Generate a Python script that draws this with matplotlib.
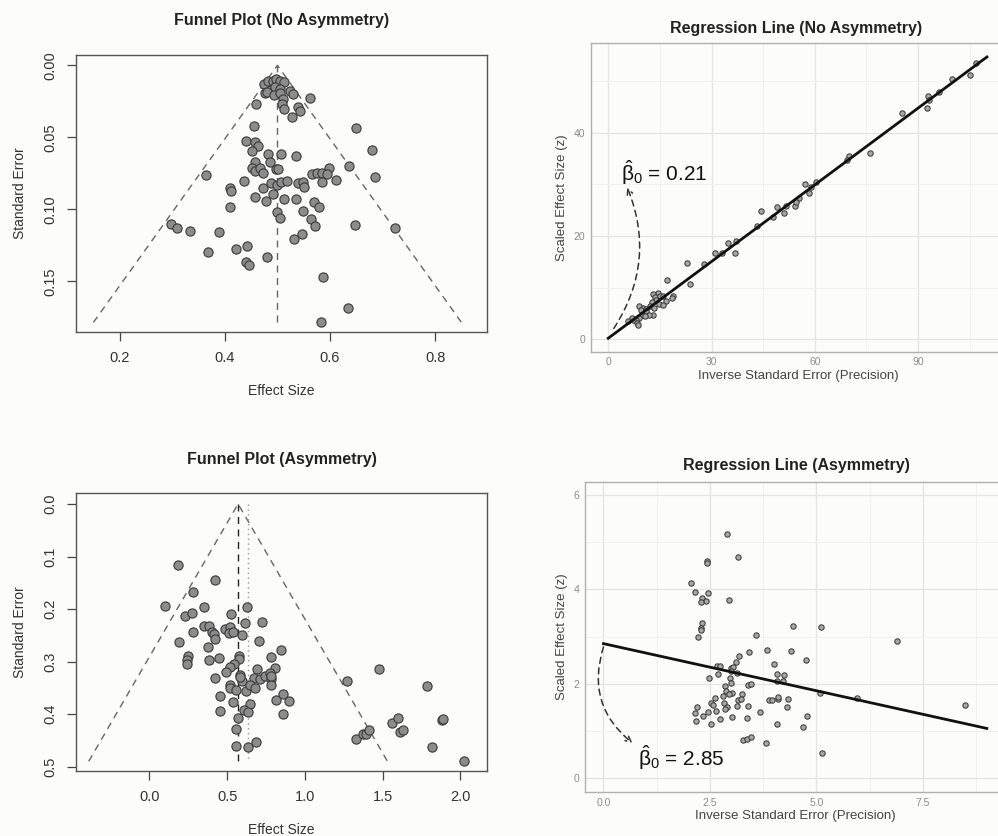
import matplotlib
matplotlib.use("Agg")
import matplotlib.pyplot as plt
from matplotlib.ticker import MultipleLocator

plt.rcParams['font.family'] = ['Liberation Sans', 'DejaVu Sans']
# upright greek in the beta-hat labels
plt.rcParams['mathtext.fontset'] = 'custom'
plt.rcParams['mathtext.rm'] = 'Liberation Sans'
plt.rcParams['mathtext.it'] = 'Liberation Sans'
plt.rcParams['mathtext.bf'] = 'Liberation Sans:bold'

# ---- data ----
# Funnel plot, no asymmetry
fp1_effect = [0.474, 0.483, 0.492, 0.498, 0.504, 0.512, 0.488, 0.496, 0.504, 0.477,
              0.480, 0.493, 0.505, 0.524, 0.529, 0.511, 0.509, 0.513, 0.539, 0.543,
              0.528, 0.561, 0.460, 0.456, 0.649, 0.440, 0.457, 0.463, 0.452, 0.483,
              0.507, 0.535, 0.680, 0.485, 0.458, 0.452, 0.458, 0.466, 0.472, 0.498,
              0.501, 0.637, 0.598, 0.566, 0.576, 0.585, 0.594, 0.685, 0.364, 0.437,
              0.473, 0.488, 0.499, 0.507, 0.519, 0.539, 0.549, 0.550, 0.585, 0.611,
              0.409, 0.412, 0.457, 0.478, 0.492, 0.512, 0.535, 0.569, 0.580, 0.409,
              0.499, 0.505, 0.548, 0.564, 0.572, 0.647, 0.723, 0.298, 0.309, 0.334,
              0.389, 0.532, 0.547, 0.421, 0.443, 0.368, 0.480, 0.441, 0.446, 0.586,
              0.634, 0.583]
fp1_se = [0.0130, 0.0106, 0.0106, 0.0097, 0.0109, 0.0113, 0.0171, 0.0153, 0.0167, 0.0190,
          0.0183, 0.0206, 0.0190, 0.0176, 0.0201, 0.0234, 0.0269, 0.0303, 0.0287, 0.0317,
          0.0356, 0.0225, 0.0271, 0.0421, 0.0438, 0.0523, 0.0535, 0.0558, 0.0595, 0.0618,
          0.0613, 0.0632, 0.0588, 0.0669, 0.0674, 0.0715, 0.0734, 0.0715, 0.0750, 0.0722,
          0.0720, 0.0699, 0.0711, 0.0757, 0.0750, 0.0745, 0.0755, 0.0773, 0.0759, 0.0801,
          0.0850, 0.0819, 0.0829, 0.0813, 0.0803, 0.0819, 0.0808, 0.0847, 0.0808, 0.0796,
          0.0854, 0.0870, 0.0912, 0.0940, 0.0894, 0.0931, 0.0931, 0.0947, 0.0981, 0.0986,
          0.1019, 0.1058, 0.1009, 0.1067, 0.1116, 0.1109, 0.1130, 0.1102, 0.1130, 0.1150,
          0.1160, 0.1204, 0.1171, 0.1275, 0.1255, 0.1299, 0.1329, 0.1363, 0.1387, 0.1470,
          0.1685, 0.1780]
fp1_center = 0.5
fp1_se_max = 0.1786

# Regression line, no asymmetry
rl1_precision = [106.7, 105.2, 99.9, 96.0, 92.8, 93.1, 92.6, 85.4, 75.9, 69.9,
                 69.4, 60.2, 57.1, 58.8, 58.3, 55.4, 54.1, 54.4, 51.5, 51.0,
                 48.9, 47.8, 44.3, 43.3, 37.2, 34.8, 36.7, 32.9, 31.0, 27.8,
                 22.9, 23.7, 17.1, 14.5, 13.1, 13.6, 15.0, 16.0, 18.7, 18.4,
                 16.7, 14.0, 12.6, 14.8, 12.1, 16.0, 9.0, 10.2, 9.4, 11.1,
                 13.3, 10.9, 12.9, 9.7, 9.0, 11.9, 10.6, 8.0, 7.1, 8.2,
                 8.7, 6.8, 5.8]
rl1_z = [53.4, 51.1, 50.4, 47.9, 47.1, 46.3, 44.7, 43.9, 36.0, 35.5,
         34.7, 30.5, 30.0, 29.5, 28.4, 27.3, 25.8, 26.5, 25.8, 24.4,
         25.7, 23.6, 24.8, 22.0, 19.1, 18.7, 16.8, 16.8, 16.8, 14.5,
         14.8, 10.8, 11.5, 9.0, 8.7, 8.1, 8.3, 8.3, 8.3, 7.9,
         7.4, 7.6, 7.3, 6.8, 6.5, 6.6, 6.5, 6.1, 5.7, 5.9,
         6.0, 5.4, 4.8, 4.8, 4.2, 4.7, 4.5, 3.7, 3.7, 3.1,
         2.8, 4.1, 3.6]
rl1_intercept = 0.21
rl1_slope = 0.495
rl1_line_end = 110

# Funnel plot, asymmetry
fp2_effect = [0.182, 0.423, 0.283, 0.101, 0.230, 0.273, 0.352, 0.526, 0.627, 0.279,
              0.348, 0.386, 0.401, 0.416, 0.423, 0.487, 0.515, 0.509, 0.536, 0.594,
              0.612, 0.723, 0.702, 0.193, 0.376, 0.251, 0.240, 0.240, 0.380, 0.448,
              0.573, 0.579, 0.781, 0.845, 0.809, 0.691, 0.545, 0.519, 0.494, 0.423,
              0.584, 0.670, 0.708, 0.745, 0.777, 0.783, 0.594, 0.783, 0.515, 0.519,
              0.558, 0.622, 0.644, 0.680, 0.451, 0.536, 0.648, 0.605, 0.631, 0.815,
              0.858, 0.895, 0.451, 0.856, 0.567, 0.558, 0.558, 0.631, 0.685, 1.270,
              1.474, 1.785, 1.328, 1.371, 1.395, 1.414, 1.560, 1.597, 1.614, 1.631,
              1.884, 1.888, 1.818, 2.021, 0.584, 0.783]
fp2_se = [0.117, 0.145, 0.168, 0.195, 0.213, 0.208, 0.197, 0.210, 0.197, 0.244,
          0.232, 0.232, 0.243, 0.248, 0.257, 0.238, 0.235, 0.246, 0.244, 0.249,
          0.227, 0.224, 0.260, 0.262, 0.272, 0.289, 0.297, 0.305, 0.297, 0.294,
          0.289, 0.296, 0.292, 0.278, 0.312, 0.314, 0.305, 0.310, 0.319, 0.331,
          0.326, 0.332, 0.333, 0.327, 0.322, 0.333, 0.338, 0.345, 0.345, 0.351,
          0.355, 0.357, 0.345, 0.351, 0.365, 0.378, 0.381, 0.393, 0.397, 0.373,
          0.362, 0.375, 0.395, 0.400, 0.407, 0.429, 0.460, 0.462, 0.454, 0.338,
          0.315, 0.346, 0.447, 0.438, 0.438, 0.430, 0.417, 0.407, 0.435, 0.430,
          0.412, 0.409, 0.463, 0.490, 0.329, 0.327]
fp2_center = 0.57
fp2_se_max = 0.49
fp2_mean_effect = 0.635

# Regression line, asymmetry
rl2_precision = [2.893, 3.167, 2.439, 2.424, 2.048, 2.158, 2.463, 2.322, 2.400, 2.291,
                 2.955, 2.322, 2.283, 2.291, 2.228, 3.581, 4.457, 5.098, 3.831, 3.417,
                 4.402, 3.190, 4.746, 3.112, 2.658, 2.737, 2.987, 3.049, 4.011, 2.995,
                 2.682, 2.486, 2.971, 3.143, 4.081, 4.238, 4.066, 4.222, 2.987, 3.401,
                 3.464, 2.854, 2.869, 3.010, 2.955, 3.253, 2.815, 2.619, 3.167, 3.221,
                 3.894, 3.956, 4.089, 4.089, 4.324, 2.518, 2.830, 2.565, 2.893, 3.143,
                 3.401, 4.300, 2.189, 2.643, 2.854, 2.447, 2.150, 3.675, 2.330, 2.174,
                 2.737, 3.026, 3.362, 4.785, 2.525, 4.081, 4.691, 3.284, 3.378, 3.456,
                 3.808, 5.082, 5.121, 5.942, 6.896, 8.483]
rl2_z = [5.180, 4.692, 4.614, 4.558, 4.147, 3.942, 3.935, 3.815, 3.758, 3.723,
         3.779, 3.298, 3.178, 3.142, 2.987, 3.029, 3.227, 3.213, 2.718, 2.682,
         2.703, 2.597, 2.505, 2.456, 2.385, 2.385, 2.343, 2.350, 2.413, 2.279,
         2.201, 2.130, 2.116, 2.222, 2.208, 2.187, 2.067, 2.059, 2.010, 1.975,
         2.003, 1.960, 1.847, 1.798, 1.783, 1.776, 1.741, 1.706, 1.656, 1.677,
         1.656, 1.656, 1.677, 1.727, 1.677, 1.599, 1.585, 1.543, 1.515, 1.536,
         1.529, 1.507, 1.500, 1.423, 1.465, 1.394, 1.373, 1.394, 1.316, 1.217,
         1.253, 1.288, 1.281, 1.316, 1.154, 1.146, 1.090, 0.800, 0.821, 0.878,
         0.736, 1.812, 0.531, 1.699, 2.916, 1.557]
rl2_intercept = 2.85
rl2_slope = -0.2
rl2_line_end = 9.0

bg = '#fcfcfa'
fig = plt.figure(figsize=(9.98, 8.36), dpi=100, facecolor=bg)


def funnel_panel(rect, effect, se, center, se_max, xlim, ylim, xticks, yticks,
                 xfmt, yfmt, title, title_y, mean_effect=None):
    ax = fig.add_axes(rect, facecolor=bg)
    half = 1.96 * se_max
    ax.plot([center - half, center, center + half], [se_max, 0, se_max],
            ls=(0, (5, 4)), color='#666666', lw=1.0)
    if mean_effect is None:
        ax.plot([center, center], [0, se_max], ls=(0, (5, 4)), color='#666666', lw=1.0)
    else:
        ax.plot([center, center], [0, se_max], ls=(0, (5, 4)), color='#222222', lw=1.0)
        ax.plot([mean_effect, mean_effect], [0, se_max], ls=(0, (1, 2.5)),
                color='#999999', lw=1.0)
    ax.scatter(effect, se, s=44, facecolor='#8c8c8c', edgecolor='#3a3a3a',
               linewidth=0.8, zorder=3)
    ax.set_xlim(*xlim)
    ax.set_ylim(*ylim)
    ax.set_xticks(xticks)
    ax.set_xticklabels([xfmt.format(v) for v in xticks])
    ax.set_yticks(yticks)
    ax.set_yticklabels([yfmt.format(v) for v in yticks], rotation=90, va='center')
    for sp in ax.spines.values():
        sp.set_color('#555555')
        sp.set_linewidth(1.0)
    ax.tick_params(length=6.5, width=0.9, color='#444444', labelsize=10.5,
                   labelcolor='#333333', pad=7)
    ax.set_xlabel('Effect Size', fontsize=10, color='#333333', labelpad=14)
    ax.set_ylabel('Standard Error', fontsize=10, color='#333333', labelpad=12)
    fig.text(rect[0] + rect[2] / 2, title_y, title, ha='center', va='center',
             fontsize=11.5, fontweight='bold', color='#222222')
    return ax


def regression_panel(rect, prec, z, intercept, slope, line_end, xlim, ylim,
                     xticks, yticks, xminor, yminor, xfmt, title, title_y):
    ax = fig.add_axes(rect, facecolor=bg)
    ax.set_axisbelow(True)
    ax.set_xlim(*xlim)
    ax.set_ylim(*ylim)
    ax.set_xticks(xticks)
    ax.set_xticklabels([xfmt.format(v) for v in xticks])
    ax.set_yticks(yticks)
    ax.set_yticklabels(['{:g}'.format(v) for v in yticks])
    ax.xaxis.set_minor_locator(MultipleLocator(xminor))
    ax.yaxis.set_minor_locator(MultipleLocator(yminor))
    ax.grid(which='major', color='#e4e4e4', lw=0.9)
    ax.grid(which='minor', color='#f0f0f0', lw=0.6)
    for sp in ax.spines.values():
        sp.set_color('#b0b0b0')
        sp.set_linewidth(1.0)
    ax.tick_params(which='both', length=0, labelsize=7.5, labelcolor='#8c8c8c', pad=4)
    ax.scatter(prec, z, s=15, facecolor='#a6a6a6', edgecolor='#333333',
               linewidth=0.7, zorder=3)
    ax.plot([0, line_end], [intercept, intercept + slope * line_end], color='#111111',
            lw=2.0, zorder=4)
    ax.set_xlabel('Inverse Standard Error (Precision)', fontsize=9.5, color='#444444',
                  labelpad=2)
    ax.set_ylabel('Scaled Effect Size (z)', fontsize=9.5, color='#444444', labelpad=4)
    fig.text(0.7976, title_y, title, ha='center', va='center',
             fontsize=11.5, fontweight='bold', color='#222222')
    return ax


ax1 = funnel_panel([0.0762, 0.6029, 0.412, 0.3313], fp1_effect, fp1_se,
                   fp1_center, fp1_se_max, (0.117, 0.899), (0.1852, -0.0072),
                   [0.2, 0.4, 0.6, 0.8], [0.0, 0.05, 0.10, 0.15],
                   '{:.1f}', '{:.2f}', 'Funnel Plot (No Asymmetry)', 0.976)

ax3 = funnel_panel([0.0762, 0.0774, 0.412, 0.3325], fp2_effect, fp2_se,
                   fp2_center, fp2_se_max, (-0.472, 2.172), (0.509, -0.0203),
                   [0.0, 0.5, 1.0, 1.5, 2.0], [0.0, 0.1, 0.2, 0.3, 0.4, 0.5],
                   '{:.1f}', '{:.1f}', 'Funnel Plot (Asymmetry)', 0.4498,
                   mean_effect=fp2_mean_effect)

ax2 = regression_panel([0.5919, 0.5793, 0.416, 0.3689], rl1_precision, rl1_z,
                       rl1_intercept, rl1_slope, rl1_line_end,
                       (-5.1, 115.5), (-2.4, 57.3), [0, 30, 60, 90], [0, 20, 40],
                       15, 10, '{:g}', 'Regression Line (No Asymmetry)', 0.9665)
ax2.annotate('', xy=(5.5, 29.4), xytext=(1.6, 2.1),
             arrowprops=dict(arrowstyle='->', linestyle=(0, (4, 3)), color='#333333',
                             lw=1.1, connectionstyle='arc3,rad=0.26',
                             shrinkA=0, shrinkB=0))
ax2.text(3.6, 32.3, r'$\hat{\beta}_0$' + ' = 0.21', fontsize=15, va='center',
         ha='left', color='#111111')

ax4 = regression_panel([0.5859, 0.0526, 0.4221, 0.3708], rl2_precision, rl2_z,
                       rl2_intercept, rl2_slope, rl2_line_end,
                       (-0.44, 9.45), (-0.30, 6.28), [0, 2.5, 5.0, 7.5], [0, 2, 4, 6],
                       1.25, 1, '{:.1f}', 'Regression Line (Asymmetry)', 0.4426)
ax4.annotate('', xy=(0.68, 0.74), xytext=(0.0, 2.78),
             arrowprops=dict(arrowstyle='->', linestyle=(0, (4, 3)), color='#333333',
                             lw=1.1, connectionstyle='arc3,rad=0.34',
                             shrinkA=0, shrinkB=0))
ax4.text(0.8, 0.42, r'$\hat{\beta}_0$' + ' = 2.85', fontsize=15, va='center',
         ha='left', color='#111111')

fig.savefig('out.png', dpi=100, facecolor=bg)
